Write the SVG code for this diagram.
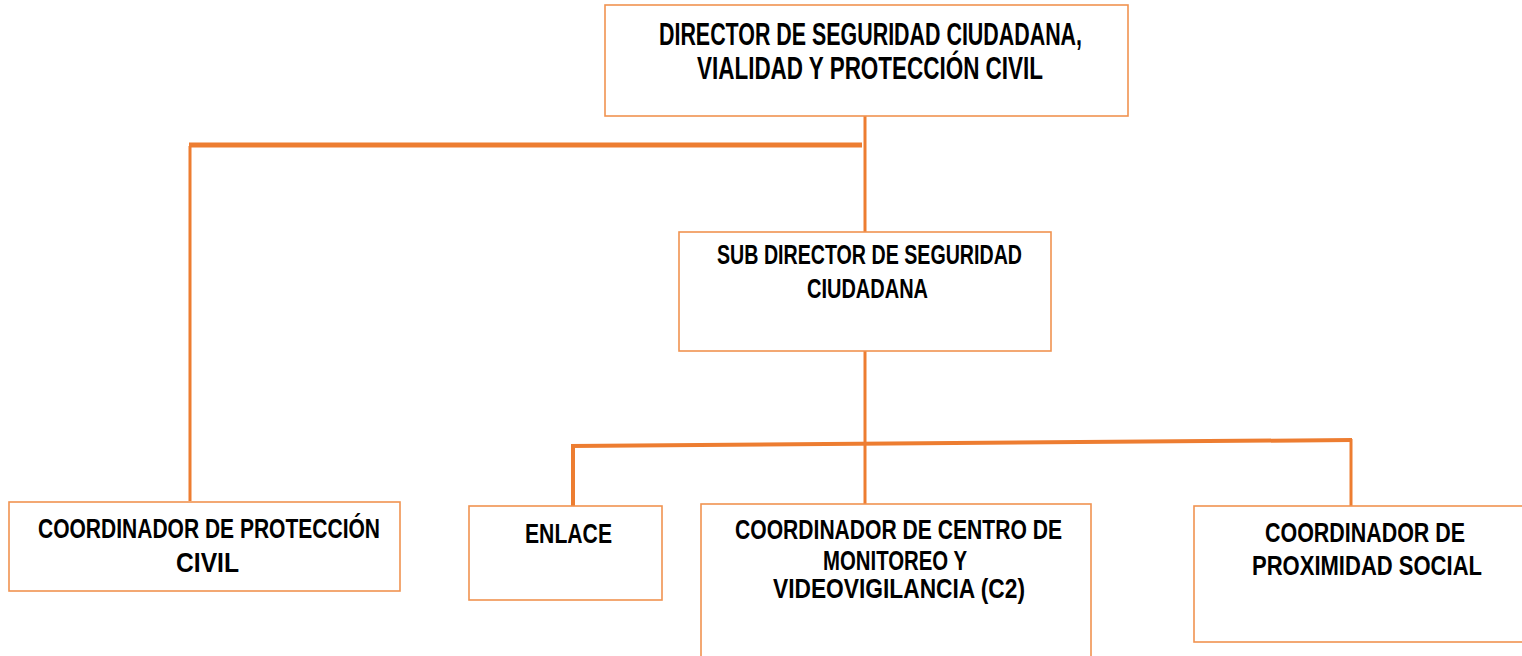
<svg xmlns="http://www.w3.org/2000/svg" width="1522" height="656" viewBox="0 0 1522 656">
<style>
.box{fill:#fff;stroke:#F19350;stroke-width:1.6}
.ln{stroke:#ED7D31;fill:none}
text{font-family:"Liberation Sans",Arial,sans-serif;font-weight:bold;fill:#000;font-size:27px}
.big{font-size:31px}
</style>
<rect width="1522" height="656" fill="#fff"/>
<g id="connectors">
<line class="ln" x1="865" y1="116" x2="865" y2="232" stroke-width="3"/>
<line class="ln" x1="189" y1="145" x2="862" y2="145" stroke-width="5"/>
<line class="ln" x1="190" y1="146" x2="190" y2="501" stroke-width="3"/>
<line class="ln" x1="865" y1="351" x2="865" y2="504" stroke-width="3"/>
<line class="ln" x1="571" y1="446" x2="1352" y2="440" stroke-width="4"/>
<line class="ln" x1="573" y1="444" x2="573" y2="506" stroke-width="4"/>
<line class="ln" x1="1351" y1="439" x2="1351" y2="506" stroke-width="3"/>
</g>
<g id="director">
<rect class="box" x="605" y="5" width="523" height="111"/>
<text class="big" x="659" y="45" textLength="423" lengthAdjust="spacingAndGlyphs">DIRECTOR DE SEGURIDAD CIUDADANA,</text>
<text class="big" x="697" y="79" textLength="346" lengthAdjust="spacingAndGlyphs">VIALIDAD Y PROTECCIÓN CIVIL</text>
</g>
<g id="subdirector">
<rect class="box" x="679" y="232" width="372" height="119"/>
<text x="717" y="264" textLength="305" lengthAdjust="spacingAndGlyphs">SUB DIRECTOR DE SEGURIDAD</text>
<text x="807" y="298" textLength="121" lengthAdjust="spacingAndGlyphs">CIUDADANA</text>
</g>
<g id="proteccion">
<rect class="box" x="9" y="502" width="391" height="89"/>
<text x="38" y="538" textLength="342" lengthAdjust="spacingAndGlyphs">COORDINADOR DE PROTECCIÓN</text>
<text x="176" y="572" textLength="63" lengthAdjust="spacingAndGlyphs">CIVIL</text>
</g>
<g id="enlace">
<rect class="box" x="469" y="506" width="193" height="94"/>
<text x="525" y="543" textLength="87" lengthAdjust="spacingAndGlyphs">ENLACE</text>
</g>
<g id="c2">
<rect class="box" x="701" y="504" width="390" height="160"/>
<text x="735" y="539" textLength="327" lengthAdjust="spacingAndGlyphs">COORDINADOR DE CENTRO DE</text>
<text x="823" y="570" textLength="144" lengthAdjust="spacingAndGlyphs">MONITOREO Y</text>
<text x="773" y="598" textLength="252" lengthAdjust="spacingAndGlyphs">VIDEOVIGILANCIA (C2)</text>
</g>
<g id="proximidad">
<rect class="box" x="1194" y="506" width="340" height="136"/>
<text x="1265" y="542" textLength="200" lengthAdjust="spacingAndGlyphs">COORDINADOR DE</text>
<text x="1252" y="575" textLength="230" lengthAdjust="spacingAndGlyphs">PROXIMIDAD SOCIAL</text>
</g>
</svg>
